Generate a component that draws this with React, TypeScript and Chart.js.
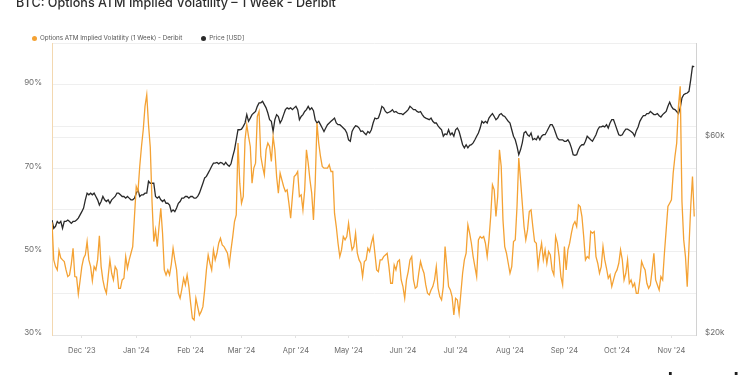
import React, { useEffect, useRef } from 'react';
import { Chart, registerables } from 'chart.js';

Chart.register(...registerables);

const TITLE = 'BTC: Options ATM Implied Volatility – 1 Week - Deribit';
const IV_LABEL = 'Options ATM Implied Volatility (1 Week) - Deribit';
const PRICE_LABEL = 'Price [USD]';

// daily observations, first day below
const START_DATE = '2023-11-14';

// ATM implied volatility, 1 week (%), daily
const ivValues = [
  57.0, 48.0, 46.4, 45.6, 50.2, 48.5, 48.0, 47.6, 45.6, 44.0,
  44.4, 47.0, 50.8, 44.0, 43.9, 39.8, 43.0, 46.4, 48.4, 49.2,
  52.4, 48.0, 46.4, 43.0, 46.4, 45.6, 48.0, 53.8, 46.4, 43.2,
  41.2, 40.0, 44.0, 48.0, 44.8, 43.2, 46.4, 45.6, 41.2, 41.2,
  43.2, 43.6, 48.8, 46.0, 48.0, 49.6, 51.2, 58.4, 65.6, 64.4,
  70.4, 75.2, 79.2, 84.8, 87.6, 80.4, 75.0, 62.0, 52.4, 55.2,
  51.2, 56.0, 60.4, 54.4, 45.6, 44.4, 45.6, 44.4, 47.0, 50.8,
  48.0, 45.6, 40.0, 38.8, 41.0, 43.6,
  42.0, 44.4, 41.6, 37.6, 34.0, 33.6, 38.8, 36.8, 34.8, 35.6,
  36.8, 40.8, 45.6, 49.2, 47.2, 45.6, 50.4, 48.0, 49.6, 52.0,
  53.2, 51.6, 51.2, 50.4, 49.6, 46.8, 50.4, 53.6, 57.2,
  58.8, 76.0, 66.4, 61.6, 63.2, 76.8, 80.4, 77.6, 75.2, 66.4,
  70.0, 71.2, 82.4, 83.6, 72.8, 70.4, 68.4, 74.4, 76.0, 75.2,
  71.6, 77.6, 74.4, 68.0, 64.0, 68.8, 67.2, 65.6, 64.4, 64.8,
  61.6, 58.0, 63.2, 68.0, 68.4, 69.2, 63.2, 63.6, 60.0, 64.8,
  74.4, 71.2, 67.2, 64.0, 57.6,
  66.4, 80.8, 76.0, 72.8, 70.4, 70.0, 70.0, 70.0, 70.8, 69.2,
  69.2, 59.2, 56.0, 52.0, 48.8, 50.4, 53.6, 52.8, 53.6, 56.8,
  53.2, 50.4, 51.2, 54.4, 49.6, 48.0, 47.2, 44.0, 47.6, 48.0,
  50.8, 50.0, 52.0, 53.6, 49.6, 45.6, 45.2, 48.0, 48.0, 48.8,
  49.2, 49.6, 46.4, 42.4, 42.4, 46.8, 45.6, 47.6, 48.0, 43.2,
  41.6, 38.8, 43.2, 45.2, 48.0, 48.8, 43.2, 41.2, 41.6, 44.8,
  47.6, 46.0, 44.8, 42.0, 40.0, 39.6, 40.8, 41.6, 43.2, 46.4,
  41.2, 39.2, 38.4,
  41.6, 51.2, 46.4, 41.6, 40.8, 39.2, 34.8, 38.8, 38.4, 35.2,
  40.0, 44.8, 48.0, 49.6, 56.4, 54.4, 52.0, 48.8, 46.4, 44.0,
  52.8, 53.6, 53.2, 53.6, 52.0, 48.8, 52.8, 58.4, 66.0, 64.8,
  58.4, 63.2, 74.4, 70.4, 57.6, 51.2, 49.6, 47.2, 44.8, 46.4,
  52.4, 52.8, 60.8, 72.4, 67.2, 61.6, 56.0, 52.8, 55.2, 59.6,
  60.0, 56.0, 52.4, 52.0, 46.4, 49.6, 52.0, 48.0, 50.4, 47.2,
  50.0, 49.2, 45.6, 44.4, 53.6, 52.0, 48.8, 44.0, 42.0, 51.2,
  45.6, 50.4, 52.0, 54.4, 56.4, 57.2,
  56.0, 61.2, 60.8, 58.4, 53.6, 48.0, 48.8, 48.4, 54.8, 54.4,
  54.8, 48.8, 47.2, 44.8, 46.4, 51.2, 48.0, 46.0, 43.6, 44.4,
  41.6, 43.2, 44.8, 45.6, 47.2, 50.4, 48.0, 43.2, 44.8, 48.0,
  42.4, 43.2, 41.6, 42.4, 40.0, 40.0, 43.2, 47.6, 46.4, 45.6,
  42.4, 41.2, 42.0, 45.6, 49.6, 43.2, 42.0, 40.8, 44.0, 43.2,
  49.6, 55.2, 60.8, 61.6, 62.4, 68.8, 72.8, 76.0, 84.8, 89.6,
  62.0, 52.8, 48.8, 41.6, 51.2, 60.8, 68.0, 58.4,
];

// BTC price in thousands of USD, daily
const priceK = [
  37.9, 36.2, 36.6, 37.6, 37.2, 37.6, 36.2, 37.6, 37.6, 37.9,
  37.6, 37.2, 37.6, 37.6, 37.9, 38.3, 39.0, 39.7, 40.5, 42.4,
  44.0, 43.6, 44.0, 43.6, 44.0, 43.2, 42.4, 41.2, 42.0, 43.2,
  42.4, 42.0, 42.4, 41.6, 42.4, 42.8, 43.2, 44.0, 44.0, 43.6,
  43.2, 43.2, 42.8, 43.2, 42.8, 42.4, 42.4, 42.8, 44.0, 44.8,
  43.2, 43.6, 43.6, 44.0, 44.0, 47.0, 46.5, 46.5, 46.5, 43.2,
  42.8, 43.2, 42.4, 42.0, 42.4, 41.6, 41.6, 41.2, 39.7, 40.1,
  39.7, 40.5, 41.6, 42.0, 42.8, 42.8,
  43.2, 43.2, 42.8, 43.2, 43.2, 42.8, 42.8, 43.2, 44.0, 45.2,
  46.5, 47.9, 48.3, 49.2, 50.1, 51.1, 52.0, 52.0, 52.2, 51.8,
  52.2, 52.0, 51.5, 52.2, 51.5, 51.1, 51.8, 54.0, 56.0, 59.2,
  62.6, 62.6, 62.8, 63.8, 65.0, 68.1, 65.6, 66.8, 68.1, 68.7,
  69.3, 71.3, 72.7, 72.7, 73.3, 72.0, 70.7, 68.7, 66.2, 65.6,
  62.0, 66.2, 68.1, 67.4, 65.0, 66.2, 68.1, 70.0, 70.7, 70.3,
  70.7, 70.0, 70.7, 71.3, 70.0, 66.2, 67.4, 68.1, 69.3, 70.0,
  71.3, 70.0, 70.7, 69.6,
  66.2, 65.0, 65.6, 64.4, 63.2, 62.0, 63.2, 64.4, 65.0, 65.6,
  66.2, 66.8, 65.0, 64.4, 64.4, 63.8, 63.2, 62.6, 61.5, 59.2,
  58.7, 62.0, 63.2, 64.0, 63.8, 63.2, 62.0, 62.2, 61.5, 60.9,
  62.0, 61.5, 62.6, 65.0, 66.8, 66.5, 66.8, 68.7, 71.3, 70.7,
  69.3, 68.7, 69.0, 69.3, 70.0, 69.0, 69.3, 68.7, 68.5, 68.5,
  68.1, 68.7, 69.3, 70.0, 71.3, 70.7, 70.0, 70.0, 69.3, 69.0,
  69.3, 68.1, 67.2, 66.8, 66.5, 66.2, 66.8, 65.6, 65.0, 65.0,
  64.0, 63.2, 62.6, 60.4,
  61.2, 60.9, 62.6, 60.9, 61.5, 60.4, 62.6, 63.2, 62.0, 59.8,
  57.6, 56.6, 57.6, 56.6, 57.4, 57.6, 58.2, 59.2, 60.4, 61.5,
  63.2, 65.6, 65.0, 65.6, 65.0, 66.8, 67.7, 68.5, 67.4, 66.2,
  66.8, 68.1, 68.5, 67.7, 67.4, 66.5, 65.6, 65.0, 62.6, 60.4,
  59.2, 57.1, 54.5, 56.0, 58.2, 61.5, 62.0, 60.9, 60.4, 61.5,
  59.2, 59.6, 59.2, 60.4, 59.2, 60.4, 60.9, 60.9, 62.0, 63.2,
  64.4, 64.4, 63.2, 61.5, 59.8, 59.2, 59.2, 59.2, 58.7, 58.7,
  59.2, 58.2, 56.6, 54.5, 54.3,
  54.5, 56.0, 57.1, 57.6, 57.6, 58.7, 60.4, 59.8, 59.2, 58.7,
  59.8, 60.9, 62.6, 63.6, 63.6, 63.9, 63.6, 64.4, 63.2, 65.0,
  66.2, 66.2, 64.4, 62.6, 60.9, 60.6, 60.9, 62.0, 62.8, 62.8,
  62.4, 62.0, 61.5, 60.4, 62.3, 63.6, 65.6, 66.8, 67.7, 67.7,
  68.5, 68.5, 69.3, 68.7, 68.1, 68.1, 68.5, 67.7, 67.2, 68.1,
  68.7, 69.3, 71.3, 73.0, 71.3, 70.3, 70.0, 69.3, 68.5, 70.7,
  74.7, 76.1, 76.5, 76.8, 77.5, 82.7, 89.1, 88.9,
];

const monthStarts = [
  '2023-12-01', '2024-01-01', '2024-02-01', '2024-03-01', '2024-04-01', '2024-05-01',
  '2024-06-01', '2024-07-01', '2024-08-01', '2024-09-01', '2024-10-01', '2024-11-01',
];
const monthLabels = [
  "Dec '23", "Jan '24", "Feb '24", "Mar '24", "Apr '24", "May '24",
  "Jun '24", "Jul '24", "Aug '24", "Sep '24", "Oct '24", "Nov '24",
];

const ivTickValues = [30, 40, 50, 60, 70, 80, 90, 100];
const ivTickLabelled = [30, 50, 70, 90];
const priceTickValues = [20, 60];

const ORANGE = '#f4a234';
const DARK = '#2a2a2a';
const FONT = 'Inter, "Noto Sans", sans-serif';

const dayIndex = (d: string) =>
  Math.round((Date.parse(d + 'T00:00:00Z') - Date.parse(START_DATE + 'T00:00:00Z')) / 86400000);

export default function App() {
  const ref = useRef<HTMLCanvasElement | null>(null);

  useEffect(() => {
    if (!ref.current) return;
    const monthIdx = monthStarts.map(dayIndex);
    const chart = new Chart(ref.current, {
      type: 'line',
      data: {
        datasets: [
          {
            label: IV_LABEL,
            data: ivValues.map((v, i) => ({ x: i, y: v })),
            borderColor: ORANGE,
            borderWidth: 1.3,
            pointRadius: 0,
            yAxisID: 'yIV',
          },
          {
            label: PRICE_LABEL,
            data: priceK.map((v, i) => ({ x: i, y: v })),
            borderColor: DARK,
            borderWidth: 1.3,
            pointRadius: 0,
            yAxisID: 'yPrice',
          },
        ],
      },
      options: {
        animation: false,
        responsive: false,
        devicePixelRatio: 1,
        layout: { padding: { top: 43, left: 0, right: 0, bottom: 0 } },
        plugins: {
          legend: { display: false },
          title: { display: false },
          tooltip: { enabled: false },
        },
        elements: { line: { tension: 0 }, point: { radius: 0 } },
        scales: {
          x: {
            type: 'linear',
            min: 0,
            max: 367,
            afterBuildTicks: (s: any) => {
              s.ticks = monthIdx.map((v) => ({ value: v }));
            },
            afterFit: (s: any) => {
              s.height = 40;
            },
            grid: { drawOnChartArea: false, drawTicks: true, tickLength: 3, color: '#e2e2e2' },
            border: { color: '#e4e4e4' },
            ticks: {
              autoSkip: false,
              maxRotation: 0,
              padding: 8,
              color: '#6b6b6b',
              font: { family: FONT, size: 7.5 },
              callback: (v: any) => {
                const k = monthIdx.indexOf(Math.round(Number(v)));
                return k >= 0 ? monthLabels[k] : '';
              },
            },
          },
          yIV: {
            type: 'linear',
            position: 'left',
            min: 30,
            max: 100,
            afterBuildTicks: (s: any) => {
              s.ticks = ivTickValues.map((v) => ({ value: v }));
            },
            afterFit: (s: any) => {
              s.width = 52;
            },
            grid: { color: '#efefef', drawTicks: false },
            border: { color: '#f3d8b0' },
            ticks: {
              padding: 10,
              labelOffset: -2,
              color: '#6b6b6b',
              font: { family: FONT, size: 8 },
              callback: (v: any) => (ivTickLabelled.includes(Number(v)) ? v + '%' : ''),
            },
          },
          yPrice: {
            type: 'logarithmic',
            position: 'right',
            min: 20,
            max: 101.4,
            afterBuildTicks: (s: any) => {
              s.ticks = priceTickValues.map((v) => ({ value: v }));
            },
            afterFit: (s: any) => {
              s.width = 54;
            },
            grid: { color: '#efefef', drawTicks: false },
            border: { color: '#d2d2d2' },
            ticks: {
              padding: 9,
              labelOffset: -2,
              color: '#6b6b6b',
              font: { family: FONT, size: 8 },
              callback: (v: any) => '$' + v + 'k',
            },
          },
        },
      } as any,
    });
    return () => chart.destroy();
  }, []);

  return (
    <div
      style={{
        position: 'fixed',
        left: 0,
        top: 0,
        width: 750,
        height: 375,
        overflow: 'hidden',
        background: '#ffffff',
        fontFamily: FONT,
      }}
    >
      <canvas ref={ref} width={750} height={375} style={{ position: 'absolute', left: 0, top: 0 }} />
      <div
        style={{
          position: 'absolute',
          left: 16,
          top: -3,
          fontSize: 12.6,
          lineHeight: '12px',
          fontWeight: 500,
          color: '#2e2e2e',
          whiteSpace: 'nowrap',
        }}
      >
        {TITLE}
      </div>
      <div
        style={{
          position: 'absolute',
          left: 32,
          top: 34,
          height: 8,
          display: 'flex',
          alignItems: 'center',
          fontSize: 6.3,
          color: '#555',
          whiteSpace: 'nowrap',
        }}
      >
        <span style={{ width: 5, height: 5, borderRadius: 3, background: ORANGE, display: 'inline-block', marginRight: 3 }} />
        <span>{IV_LABEL}</span>
        <span style={{ width: 5, height: 5, borderRadius: 3, background: DARK, display: 'inline-block', marginLeft: 19, marginRight: 3 }} />
        <span>{PRICE_LABEL}</span>
      </div>
      <div
        style={{
          position: 'absolute',
          left: 656,
          top: 370,
          fontSize: 19,
          lineHeight: '19px',
          fontWeight: 700,
          color: '#1d1d1d',
          letterSpacing: -0.3,
        }}
      >
        glassnode
      </div>
    </div>
  );
}
